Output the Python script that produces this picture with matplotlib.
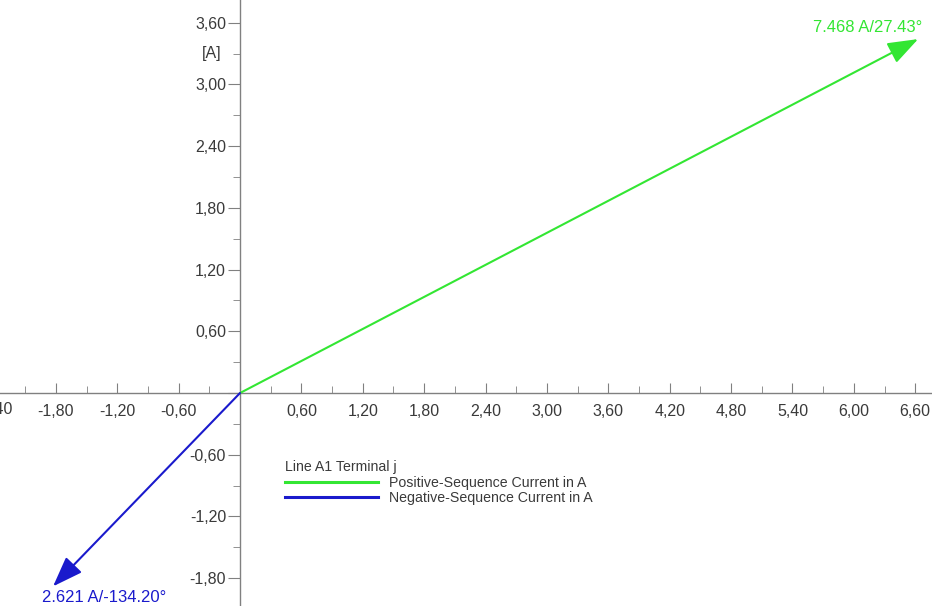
import numpy as np
import matplotlib.pyplot as plt
from matplotlib.ticker import MultipleLocator, FuncFormatter
from matplotlib.lines import Line2D

plt.rcParams['font.family'] = ['Liberation Sans', 'DejaVu Sans']

# phasors: magnitude [A], angle [deg]
names = ["Positive-Sequence Current in A", "Negative-Sequence Current in A"]
magnitudes = [7.468, 2.621]
angles = [27.43, -134.20]
colors = ["#33e633", "#1a1acc"]

x_lim = (-2.346, 6.764)
y_lim = (-2.07, 3.82)
txt_col = "#3a3a3a"

fig = plt.figure(figsize=(9.32, 6.06), dpi=100)
ax = fig.add_axes([0, 0, 1, 1])
ax.set_xlim(*x_lim)
ax.set_ylim(*y_lim)

# axes crossing at the origin
for side in ("top", "right"):
    ax.spines[side].set_visible(False)
ax.spines["left"].set_position(("data", 0))
ax.spines["bottom"].set_position(("data", 0))
for side in ("left", "bottom"):
    ax.spines[side].set_color("#808080")
    ax.spines[side].set_linewidth(1.0)

fmt = FuncFormatter(lambda v, p: "" if abs(v) < 1e-9 else f"{v:.2f}".replace(".", ","))
ax.xaxis.set_major_locator(MultipleLocator(0.6))
ax.xaxis.set_minor_locator(MultipleLocator(0.3))
ax.yaxis.set_major_locator(MultipleLocator(0.6))
ax.yaxis.set_minor_locator(MultipleLocator(0.3))
ax.xaxis.set_major_formatter(fmt)
ax.yaxis.set_major_formatter(fmt)

ax.tick_params(axis="x", which="both", direction="in", color="#808080",
               labelsize=11.5, labelcolor=txt_col, pad=8)
ax.tick_params(axis="x", which="major", length=7)
ax.tick_params(axis="x", which="minor", length=5)
ax.tick_params(axis="y", which="both", direction="out", color="#808080",
               labelsize=11.5, labelcolor=txt_col, pad=1)
ax.tick_params(axis="y", which="major", length=9)
ax.tick_params(axis="y", which="minor", length=5)

# the -2,40 label sits just past the left edge and is clipped there
ax.text(-2.40, -0.16, "-2,40", ha="center", va="center", fontsize=11.5,
        color=txt_col, clip_on=False)

ax.text(-0.18, 3.30, "[A]", ha="right", va="center", fontsize=11.5, color=txt_col)

# phasor arrows
for mag, ang, col in zip(magnitudes, angles, colors):
    x = mag * np.cos(np.radians(ang))
    y = mag * np.sin(np.radians(ang))
    ax.annotate("", xy=(x, y), xytext=(0, 0),
                arrowprops=dict(arrowstyle="-|>,head_length=1.1,head_width=0.4",
                                color=col, lw=1.5, mutation_scale=17,
                                shrinkA=0, shrinkB=0))
    label = f"{mag:.3f} A/{ang:.2f}°"
    if y > 0:
        ax.text(x + 0.04, y + 0.11, label, ha="right", va="center",
                fontsize=12, color=col)
    else:
        ax.text(x - 0.11, y - 0.11, label, ha="left", va="center",
                fontsize=12, color=col)

# legend
handles = [Line2D([], [], color=c, lw=2.2) for c in colors]
leg = ax.legend(handles, names, title="Line A1 Terminal j", loc="upper left",
                bbox_to_anchor=(0.298, 0.252), frameon=False, fontsize=10.2,
                title_fontsize=10.2, handlelength=6.6, handletextpad=0.75,
                labelspacing=0.1, borderpad=0, alignment="left")
for t in leg.get_texts():
    t.set_color(txt_col)
leg.get_title().set_color(txt_col)

fig.savefig("out.png", dpi=100, facecolor="white")
